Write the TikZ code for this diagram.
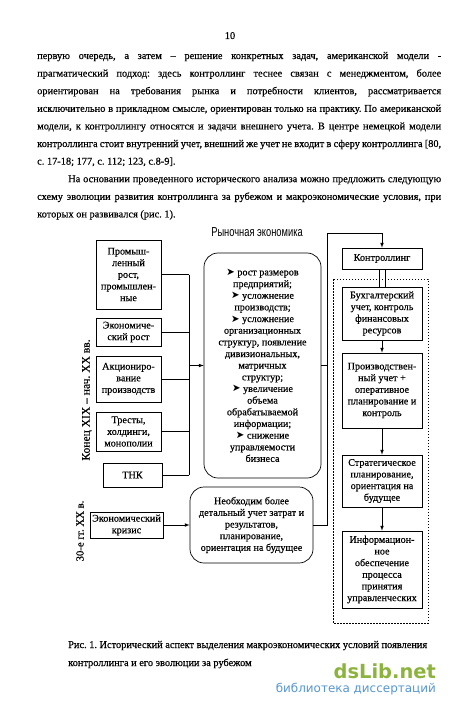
\documentclass[tikz,border=0pt]{standalone}
\usepackage{fontspec}
\setmainfont[FakeBold=0.4]{Liberation Serif}
\newfontfamily\narrowfont[FakeStretch=0.72]{Liberation Sans}
\newfontfamily\symfont{DejaVu Sans}
\usepackage{tikz}
\definecolor{libgreen}{RGB}{140,180,60}
\definecolor{libblue}{RGB}{85,150,210}
\newcommand{\pnt}{{\symfont ➤}}
\frenchspacing

\begin{document}
\begin{tikzpicture}[>=latex,x=1bp,y=-1bp,
    txt/.style={font=\fontsize{10.4}{17.6}\selectfont,inner sep=0,anchor=base west},
    box/.style={draw,line width=.7bp,align=center,inner sep=1bp,font=\fontsize{10.2}{11.7}\selectfont},
    rbox/.style={box,rounded corners=14bp}]
        \useasboundingbox (0,0) rectangle (450,708);

        \node[txt,anchor=base] (num) at (230,39){10};
        \foreach \t [count=\i] in {{первую очередь, а затем -- решение конкретных задач, американской модели -},
            {прагматический подход: здесь контроллинг теснее связан с менеджментом, более},
            {ориентирован на требования рынка и потребности клиентов, рассматривается},
            {исключительно в прикладном смысле, ориентирован только на практику. По американской},
            {модели, к контроллингу относятся и задачи внешнего учета. В центре немецкой модели},
            {контроллинга стоит внутренний учет, внешний же учет не входит в сферу контроллинга [80,}}
        {
            \node[txt] (p\i) at (37,{59+17.6*(\i-1)}){\makebox[404bp][s]{\t}};
        }
        \node[txt] (p7) at (37,164.6){с. 17-18; 177, с. 112; 123, с.8-9].};
        \node[txt] (p8) at (68,182.2){\makebox[373bp][s]{На основании проведенного исторического анализа можно предложить следующую}};
        \node[txt] (p9) at (37,199.8){\makebox[404bp][s]{схему эволюции развития контроллинга за рубежом и макроэкономические условия, при}};
        \node[txt] (p10) at (37,217.4){которых он развивался (рис. 1).};

        \node[font=\narrowfont\fontsize{13}{13}\selectfont] (market title) at (257,232){Рыночная экономика};

        % левая колонка
        \node[box,minimum width=65bp,minimum height=69bp] (prom) at (128.5,274.5){Промыш-\\ленный\\рост,\\промышлен-\\ные};
        \node[box,minimum width=65bp,minimum height=28bp] (ekon) at (128.5,332){Экономиче-\\ский рост};
        \node[box,minimum width=65bp,minimum height=46bp] (akc) at (128.5,379){Акциониро-\\вание\\производств};
        \node[box,minimum width=65bp,minimum height=39bp] (trest) at (128.5,431.5){Тресты,\\холдинги,\\монополии};
        \node[box,minimum width=59bp,minimum height=24bp] (tnk) at (132.5,475){ТНК};
        \node[box,minimum width=73bp,minimum height=26bp] (krizis) at (126.5,525){Экономический\\кризис};

        \node[rotate=90,font=\fontsize{11.6}{12}\selectfont] (era1) at (87,400){Конец XIX -- нач. XX вв.};
        \node[rotate=90,font=\fontsize{10.8}{12}\selectfont] (era2) at (80,531){30-е гг. XX в.};

        \node[rbox,minimum width=117bp,minimum height=225bp] (market) at (262.5,365.5){\pnt\ рост размеров\\предприятий;\\\pnt\ усложнение\\производств;\\\pnt\ усложнение\\организационных\\структур, появление\\дивизиональных,\\матричных\\структур;\\\pnt\ увеличение\\объема\\обрабатываемой\\информации;\\\pnt\ снижение\\управляемости\\бизнеса};
        \node[rbox,minimum width=123bp,minimum height=76bp] (need) at (251.5,525){Необходим более\\детальный учет затрат и\\результатов,\\планирование,\\ориентация на будущее};

        % правая колонка
        \node[box,minimum width=80bp,minimum height=21bp] (kontr) at (382,258.5){Контроллинг};
        \draw[dash pattern=on 1.5bp off 1.5bp,line width=.8bp] (333,279) rectangle (428,623);
        \node[box,minimum width=80bp,minimum height=53bp] (buh) at (382,313.5){Бухгалтерский\\учет, контроль\\финансовых\\ресурсов};
        \node[box,minimum width=80bp,minimum height=75bp] (proizv) at (382,390.5){Производствен-\\ный учет +\\оперативное\\планирование и\\контроль};
        \node[box,minimum width=80bp,minimum height=52bp] (strat) at (382,481){Стратегическое\\планирование,\\ориентация на\\будущее};
        \node[box,minimum width=80bp,minimum height=77bp] (inform) at (382,569.5){Информацион-\\ное\\обеспечение\\процесса\\принятия\\управленческих};

        \coordinate (bus) at (189,365.5);
        \coordinate (riser) at (327,233);
        \begin{scope}[line width=.7bp]
        \foreach \n in {prom,ekon,akc,trest,tnk}
        {
            \draw (\n.east)--(\n.east -| bus);
        }
        \draw (prom.east -| bus)--(tnk.east -| bus);
        \draw[->] (bus)--(market.west);
        \draw[->] (krizis.east)--(need.west);
        \draw (market.east)--(market.east -| riser);
        \draw[->] (need.east)-|(riser)-|(kontr.north);
        \draw ([xshift=-3bp]kontr.south)--([xshift=-3bp]buh.north);
        \draw ([xshift=3bp]kontr.south)--([xshift=3bp]buh.north);
        \draw[->] (buh)--(proizv);
        \draw[->] (proizv)--(strat);
        \draw[->] (strat)--(inform);
        \end{scope}

        \node[txt] (cap1) at (68,648){\makebox[359bp][s]{Рис. 1. Исторический аспект выделения макроэкономических условий появления}};
        \node[txt] (cap2) at (68,666){контроллинга и его эволюции за рубежом};

        \node[anchor=east,inner sep=0,text=libgreen,font=\symfont\bfseries\fontsize{19.5}{19.5}\selectfont] (wm1) at (436,671){dsLib.net};
        \node[anchor=east,inner sep=0,text=libblue,font=\symfont\fontsize{12}{12}\selectfont] (wm2) at (436,689){библиотека диссертаций};

    \end{tikzpicture}
\end{document}
